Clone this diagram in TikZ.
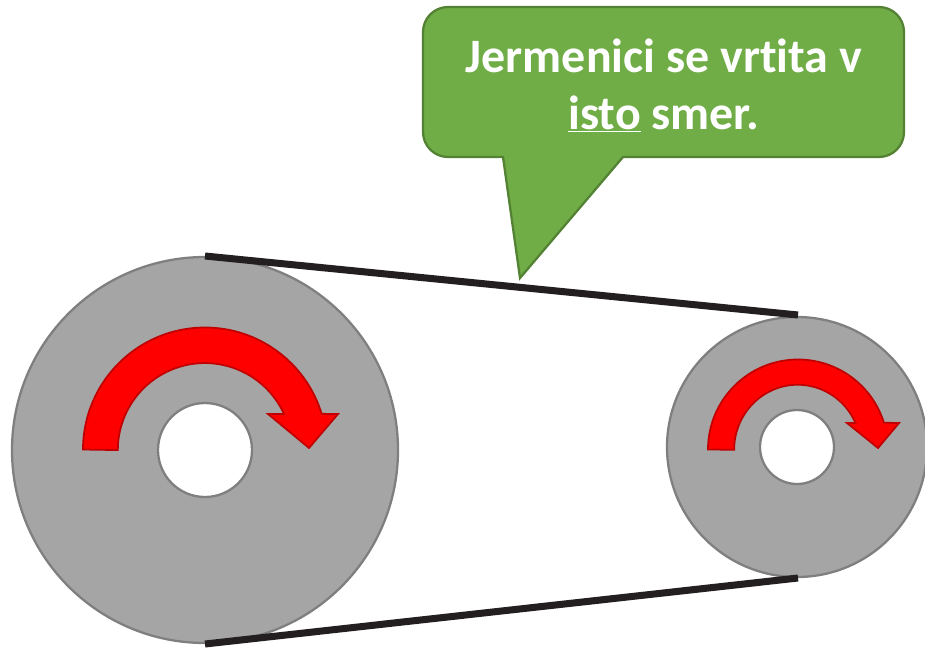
\documentclass[tikz,border=0pt]{standalone}
\usepackage{fontspec}
\setmainfont[Ligatures=NoCommon]{Carlito}
\definecolor{jermen}{HTML}{231F20}
\definecolor{siva}{HTML}{A5A5A5}
\definecolor{sivarob}{HTML}{7F7F7F}
\definecolor{zelena}{HTML}{70AD47}
\definecolor{zelenarob}{HTML}{548235}
\definecolor{rdecarob}{HTML}{C00000}
\tikzset{
  kolo/.style={draw=sivarob, fill=siva, line width=1.3pt},
  luknja/.style={draw=sivarob, fill=white, line width=1.3pt},
  jermenica/.style={draw=jermen, line width=4pt},
  strelica/.style={draw=rdecarob, fill=red, line width=1pt, line join=miter},
  oblacek/.style={draw=zelenarob, fill=zelena, line width=1.3pt},
}
\begin{document}
\begin{tikzpicture}[x=0.02cm, y=-0.02cm]
    \useasboundingbox (0,0) rectangle (925,649);

    % Jermenici
    \draw[kolo] (205,450) circle [radius=193];
    \draw[luknja] (205,450) circle [radius=47];
    \draw[kolo] (797,447) circle [radius=130];
    \draw[luknja] (797,447) circle [radius=37];

    % Jermen
    \coordinate (veliki zgoraj) at (205,256);
    \coordinate (mali zgoraj) at (798,315);
    \coordinate (veliki spodaj) at (205,644);
    \coordinate (mali spodaj) at (798,578);
    \draw[jermenica] (veliki zgoraj) -- (mali zgoraj);
    \draw[jermenica] (veliki spodaj) -- (mali spodaj);

    % Puscici
    \draw[strelica] (83,449.5) arc [start angle=180, end angle=343, radius=122]
        -- (338,414) -- (309,448) -- (268,414) -- (284,414)
        arc [start angle=335.5, end angle=180, radius=87] -- cycle;
    \draw[strelica] (708,449.5) arc [start angle=180, end angle=342.7, radius=90]
        -- (899,423) -- (878,448) -- (847,423) -- (855.5,423)
        arc [start angle=335.7, end angle=180, x radius=63.5, y radius=65] -- cycle;

    % Oblacek
    \draw[oblacek] (503,157) -- (520,278) -- (623,157) -- (879,157)
        arc [start angle=90, end angle=0, radius=25] -- (904,32)
        arc [start angle=0, end angle=-90, radius=25] -- (448,7)
        arc [start angle=-90, end angle=-180, radius=25] -- (423,132)
        arc [start angle=180, end angle=90, radius=25] -- cycle;
    \node[text=white, align=center, font=\fontsize{27.3}{32}\selectfont\bfseries] (napis) at (664,86)
        {Jermenici se vrtita v\\\underline{isto} smer.};
\end{tikzpicture}
\end{document}
